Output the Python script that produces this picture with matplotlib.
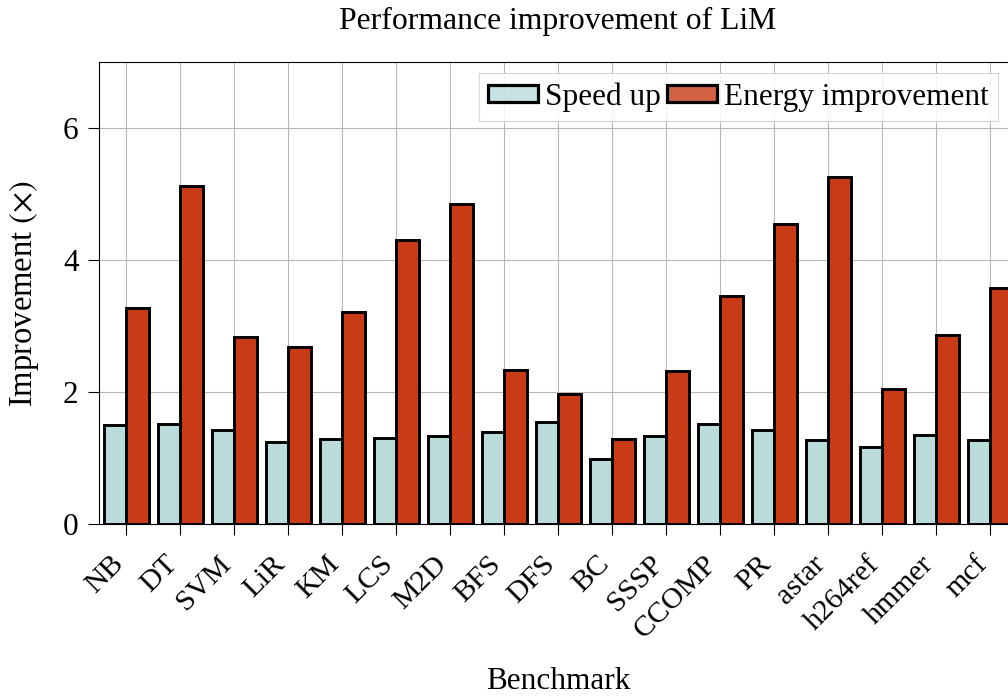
import matplotlib
matplotlib.use("Agg")
import matplotlib.pyplot as plt
import matplotlib.transforms as mtransforms
import numpy as np
from matplotlib.patches import Patch

plt.rcParams['font.family'] = ['Liberation Serif', 'DejaVu Serif']
plt.rcParams['mathtext.fontset'] = 'stix'
plt.rcParams['font.size'] = 22.5

# benchmark results
benchmarks = ["NB", "DT", "SVM", "LiR", "KM", "LCS", "M2D", "BFS", "DFS", "BC",
              "SSSP", "CCOMP", "PR", "astar", "h264ref", "hmmer", "mcf"]
speed_up = [1.50, 1.52, 1.42, 1.24, 1.29, 1.30, 1.34, 1.39, 1.55, 0.99,
            1.34, 1.52, 1.42, 1.28, 1.17, 1.35, 1.27]
energy = [3.28, 5.12, 2.83, 2.68, 3.21, 4.31, 4.85, 2.33, 1.98, 1.29,
          2.32, 3.46, 4.54, 5.26, 2.05, 2.87, 3.58]

speed_color = "#bbdbdb"
energy_color = "#c93a17"

fig = plt.figure(figsize=(10.08, 6.98), dpi=100)
ax = fig.add_axes([0.0985, 0.2489, 0.9105, 0.6623])

x = np.arange(len(benchmarks))
w = 0.417
ax.bar(x - w / 2, speed_up, w, color=speed_color, edgecolor="black", linewidth=2.1, zorder=3)
ax.bar(x + w / 2, energy, w, color=energy_color, edgecolor="black", linewidth=2.1, zorder=3)

ax.set_xlim(-0.5, len(benchmarks) - 0.5)
ax.set_ylim(0, 7)
ax.set_yticks([0, 2, 4, 6])
ax.set_xticks(x)
ax.set_xticklabels(benchmarks, rotation=45, ha="right", va="center",
                   rotation_mode="anchor", fontsize=21.5)
ax.tick_params(axis="both", direction="out", length=7.8, width=0.8, colors="black")
ax.tick_params(axis="x", pad=18)
ax.tick_params(axis="y", pad=7)
# nudge the rotated labels a little left, under their ticks
shift = mtransforms.ScaledTranslation(-7 / 100, 0, fig.dpi_scale_trans)
for lbl in ax.get_xticklabels():
    lbl.set_transform(lbl.get_transform() + shift)
ax.grid(True, color="#b8b8b8", linewidth=0.8, zorder=0)
ax.set_axisbelow(True)
for s in ax.spines.values():
    s.set_linewidth(0.8)

ax.set_ylabel(r"Improvement $(\times)$", fontsize=23.5)
ax.yaxis.set_label_coords(-0.0635, 0.5)
ax.set_xlabel("Benchmark")
ax.xaxis.set_label_coords(0.5, -0.309)
ax.xaxis.label.set_va("top")

fig.text(558 / 1008, 1 - 21 / 698, "Performance improvement of LiM",
         ha="center", va="center", fontsize=22.8)

handles = [
    Patch(facecolor=(0.73, 0.86, 0.86, 0.8), edgecolor="black", linewidth=2.3, label="Speed up"),
    Patch(facecolor=(0.79, 0.23, 0.09, 0.8), edgecolor="black", linewidth=2.3, label="Energy improvement"),
]
leg = ax.legend(handles=handles, ncol=2, loc="upper right",
                bbox_to_anchor=(998 / 1008, 1 - 72.7 / 698), bbox_transform=fig.transFigure,
                handlelength=1.6, handleheight=0.48, handletextpad=0.22, columnspacing=0.2,
                borderpad=0.3, borderaxespad=0, fancybox=False, framealpha=0.85,
                edgecolor="#d0d0d0")
leg.get_frame().set_linewidth(0.8)

fig.savefig("out.png", dpi=100)
